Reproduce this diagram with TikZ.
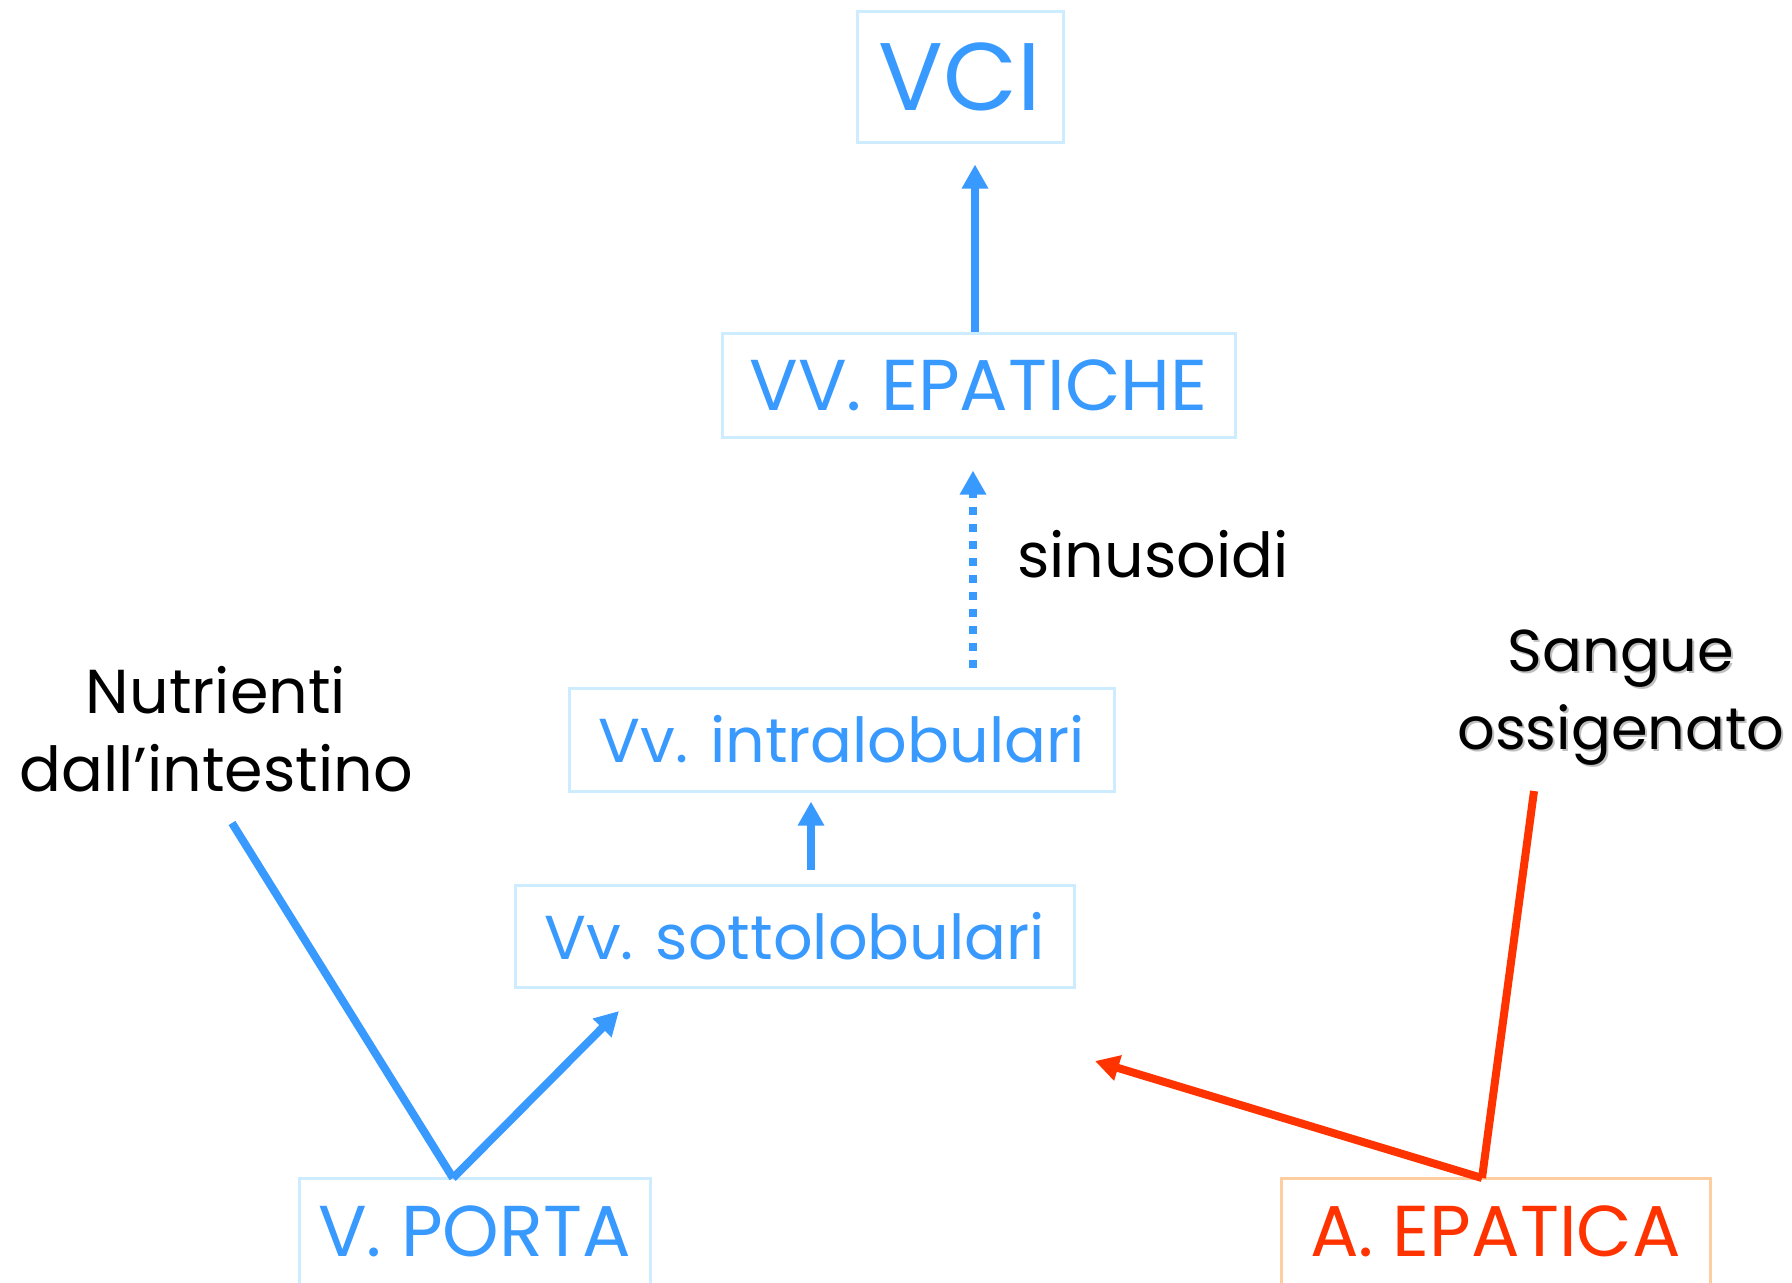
\documentclass[tikz,border=0pt]{standalone}
\usepackage{fontspec}
\setmainfont{Poppins}
\usetikzlibrary{arrows.meta}
\definecolor{vblue}{RGB}{56,153,255}
\definecolor{lblue}{RGB}{206,236,255}
\definecolor{vred}{RGB}{255,51,0}
\definecolor{lorange}{RGB}{255,206,160}
\begin{document}
\begin{tikzpicture}[x=0.5pt,y=-0.5pt,
  box/.style={draw=lblue,line width=1.5pt,inner sep=0pt,align=center,text=vblue},
  obox/.style={box,draw=lorange,text=vred},
  big/.style={font=\fontsize{48}{52}\selectfont},
  mid/.style={font=\fontsize{36}{40}\selectfont},
  sml/.style={font=\fontsize{31}{31}\selectfont},
  lbl/.style={font=\fontsize{31}{39}\selectfont,align=center,text=black,inner sep=0pt},
  slbl/.style={lbl,font=\fontsize{29.5}{39}\selectfont},
  arr/.style={draw=vblue,line width=4pt,-{Triangle[width=12.5pt,length=12pt]}},
  rarr/.style={draw=vred,line width=4pt,-{Triangle[width=12.5pt,length=12pt]}},
  ln/.style={draw=vblue,line width=4pt},
  rln/.style={draw=vred,line width=4pt}]
\useasboundingbox (0,0) rectangle (1792,1282);
\fill[white] (0,0) rectangle (1792,1282);

\node[box,big,minimum width=103pt,minimum height=65.5pt] (vci) at (960,76.5) {VCI};
\node[box,mid,minimum width=256.5pt,minimum height=52pt] (epat) at (978.5,385) {VV. EPATICHE};
\node[box,sml,minimum width=272.5pt,minimum height=51.5pt] (intra) at (841.5,739.5) {Vv. intralobulari};
\node[box,sml,minimum width=279.5pt,minimum height=51pt] (sotto) at (794.5,936) {Vv. sottolobulari};
\node[box,mid,minimum width=175.5pt,minimum height=53pt] (porta) at (474.5,1231) {V. PORTA};
\node[obox,mid,minimum width=214.5pt,minimum height=53pt] (epatica) at (1495.5,1231) {A. EPATICA};

\node[lbl] (sinus) at (1153,554) {sinusoidi};
\node[lbl] (nutr) at (216,729) {Nutrienti\\dall’intestino};
\node[slbl,text=black!50,opacity=0.5] (sangueshadow) at (1623,700) {Sangue\\ossigenato};
\node[slbl] (sangue) at (1621,698) {Sangue\\ossigenato};

% vertical arrows
\draw[arr,shorten >=10.5pt] (epat.north -| 975,0) -- (vci.south -| 975,0);
\draw[arr,dash pattern=on 4pt off 4.5pt,shorten <=9.5pt,shorten >=16pt] (intra.north -| 973,0) -- (epat.south -| 973,0);
\draw[arr,shorten <=7pt,shorten >=4.5pt] (sotto.north -| 811,0) -- (intra.south -| 811,0);

% portal vein
\coordinate (pv) at (453,1178);
\coordinate (nutrend) at (232,823);
\coordinate (pvtip) at (619,1011);
\draw[ln] (pv) -- (nutrend);
\draw[arr] (pv) -- (pvtip);

% hepatic artery
\coordinate (ha) at (1482,1178);
\coordinate (sangend) at (1534,791);
\coordinate (hatip) at (1095,1061);
\draw[rln] (ha) -- (sangend);
\draw[rarr] (ha) -- (hatip);
\end{tikzpicture}
\end{document}
